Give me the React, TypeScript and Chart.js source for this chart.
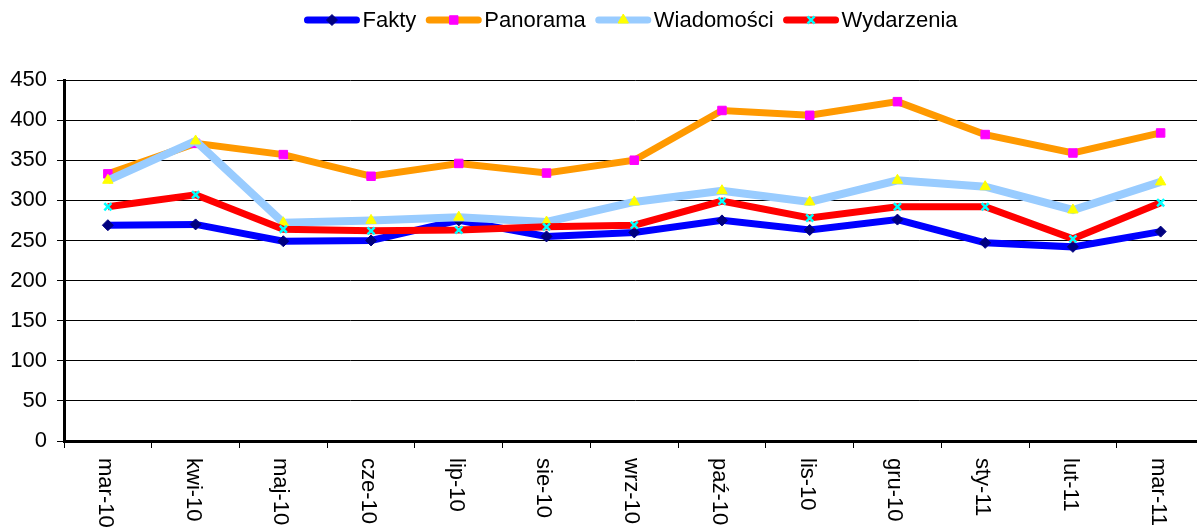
import React, { useEffect, useRef } from "react";
import { Chart, registerables } from "chart.js";
import { drawPoint } from "chart.js/helpers";

Chart.register(...registerables);

const categories = ["mar-10", "kwi-10", "maj-10", "cze-10", "lip-10", "sie-10", "wrz-10", "paź-10", "lis-10", "gru-10", "sty-11", "lut-11", "mar-11"];
const fakty = [269, 270, 249, 250, 275, 255, 260, 275, 263, 276, 247, 242, 261];
const panorama = [333, 371, 357, 330, 346, 334, 350, 412, 406, 423, 382, 359, 384];
const wiadomosci = [325, 374, 272, 275, 279, 273, 298, 312, 298, 325, 317, 288, 323];
const wydarzenia = [292, 307, 264, 262, 263, 267, 269, 299, 278, 292, 292, 252, 297];
const yMin = 0;
const yMax = 450;
const yStep = 50;

const FONT = "'Liberation Sans', Arial, sans-serif";

const legendPlugin = {
  id: "customLegend",
  afterDraw(chart: any) {
    const ctx = chart.ctx;
    ctx.save();
    ctx.font = `22px ${FONT}`;
    const lineLen = 55;
    const gap = 3;
    const itemGap = 10;
    const items = chart.data.datasets.map((ds: any) => ({
      ds,
      w: lineLen + gap + ctx.measureText(ds.label).width,
    }));
    const total = items.reduce((s: number, it: any) => s + it.w, 0) + itemGap * (items.length - 1);
    let x = 631 - total / 2;
    const y = 20;
    for (const it of items) {
      const ds = it.ds;
      ctx.strokeStyle = ds.borderColor;
      ctx.lineWidth = 7;
      ctx.lineCap = "round";
      ctx.beginPath();
      ctx.moveTo(x + 3, y);
      ctx.lineTo(x + lineLen - 3, y);
      ctx.stroke();
      ctx.lineCap = "butt";
      ctx.fillStyle = ds.pointBackgroundColor;
      ctx.strokeStyle = ds.pointBorderColor;
      ctx.lineWidth = ds.pointBorderWidth;
      drawPoint(ctx, { pointStyle: ds.pointStyle, radius: ds.pointRadius, rotation: 0, borderWidth: ds.pointBorderWidth }, x + lineLen / 2, y);
      ctx.fillStyle = "#000";
      ctx.textAlign = "left";
      ctx.textBaseline = "middle";
      ctx.fillText(ds.label, x + lineLen + gap, y + 1);
      x += it.w + itemGap;
    }
    ctx.restore();
  },
};

const xLabelPlugin = {
  id: "xLabels",
  afterDraw(chart: any) {
    const ctx = chart.ctx;
    const xs = chart.scales.x;
    ctx.save();
    ctx.font = `22px ${FONT}`;
    ctx.fillStyle = "#000";
    ctx.textAlign = "left";
    ctx.textBaseline = "middle";
    categories.forEach((lab, i) => {
      const px = xs.getPixelForValue(i);
      ctx.save();
      ctx.translate(px - 3, chart.chartArea.bottom + 17);
      ctx.rotate(Math.PI / 2);
      ctx.fillText(lab, 0, 0);
      ctx.restore();
    });
    ctx.restore();
  },
};

export default function App() {
  const ref = useRef<HTMLCanvasElement>(null);
  useEffect(() => {
    if (!ref.current) return;
    const chart = new Chart(ref.current, {
      type: "line",
      data: {
        labels: categories,
        datasets: [
          {
            label: "Fakty",
            data: fakty,
            borderColor: "#0000FF",
            backgroundColor: "#0000FF",
            borderWidth: 7,
            pointStyle: "rectRot",
            pointRadius: 5.5,
            pointBackgroundColor: "#000080",
            pointBorderColor: "#000080",
            pointBorderWidth: 1,
            tension: 0,
            order: 4,
          },
          {
            label: "Panorama",
            data: panorama,
            borderColor: "#FF9900",
            backgroundColor: "#FF9900",
            borderWidth: 7,
            pointStyle: "rect",
            pointRadius: 6,
            pointBackgroundColor: "#FF00FF",
            pointBorderColor: "#FF00FF",
            pointBorderWidth: 1,
            tension: 0,
            order: 3,
          },
          {
            label: "Wiadomości",
            data: wiadomosci,
            borderColor: "#99CCFF",
            backgroundColor: "#99CCFF",
            borderWidth: 8,
            pointStyle: "triangle",
            pointRadius: 6,
            pointBackgroundColor: "#FFFF00",
            pointBorderColor: "#FFFF00",
            pointBorderWidth: 1,
            tension: 0,
            order: 2,
          },
          {
            label: "Wydarzenia",
            data: wydarzenia,
            borderColor: "#FF0000",
            backgroundColor: "#FF0000",
            borderWidth: 7,
            pointStyle: "crossRot",
            pointRadius: 5,
            pointBackgroundColor: "#00FFFF",
            pointBorderColor: "#00FFFF",
            pointBorderWidth: 2.5,
            tension: 0,
            order: 1,
          },
        ] as any,
      },
      options: {
        animation: false,
        responsive: false,
        devicePixelRatio: 1,
        layout: { padding: { top: 80, left: 0, right: 1, bottom: 0 } },
        plugins: { legend: { display: false }, tooltip: { enabled: false } },
        scales: {
          x: {
            type: "category",
            offset: true,
            grid: { offset: true, drawOnChartArea: false, drawTicks: true, tickLength: 7, color: "#000", lineWidth: 1 },
            border: { display: true, color: "#000", width: 3 },
            ticks: { display: false },
            afterFit: (scale: any) => {
              scale.height = 91;
            },
          },
          y: {
            min: yMin,
            max: yMax,
            ticks: { stepSize: yStep, color: "#000", font: { size: 22, family: FONT }, padding: 10 },
            grid: { color: "#000", lineWidth: 1, tickLength: 7, drawTicks: true },
            border: { display: true, color: "#000", width: 3 },
            afterFit: (scale: any) => {
              scale.width = 64;
            },
          },
        },
      } as any,
      plugins: [legendPlugin, xLabelPlugin],
    });
    return () => chart.destroy();
  }, []);
  return (
    <div style={{ position: "fixed", left: 0, top: 0, width: 1197, height: 532, overflow: "hidden", background: "#fff" }}>
      <canvas ref={ref} width={1212} height={532} style={{ display: "block", width: 1212, height: 532 }} />
    </div>
  );
}
